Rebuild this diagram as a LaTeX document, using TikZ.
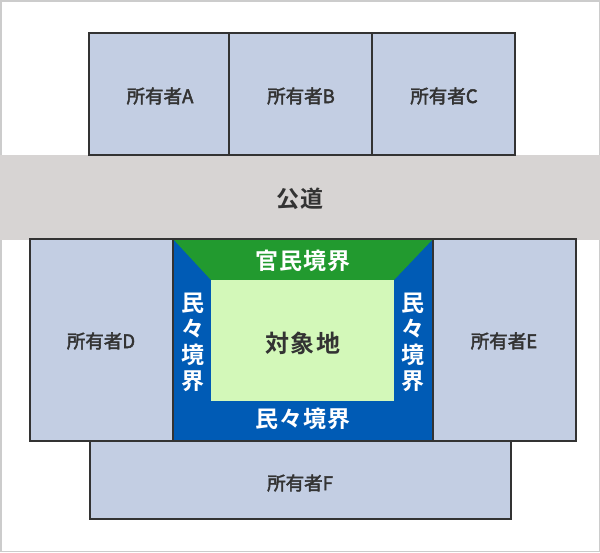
\documentclass[tikz,border=0pt]{standalone}
\usepackage{fontspec}
\newfontfamily\cjk[FakeBold=2.5]{Noto Sans CJK JP}
\newfontfamily\cjkb{Noto Sans CJK JP Bold}
\newfontfamily\cjkbs[LetterSpace=5]{Noto Sans CJK JP Bold}
\definecolor{boxfill}{HTML}{C3CEE3}
\definecolor{edge}{HTML}{333333}
\definecolor{road}{HTML}{D7D4D3}
\definecolor{blueb}{HTML}{005BB5}
\definecolor{greenb}{HTML}{229A2F}
\definecolor{site}{HTML}{D3F8B9}
\definecolor{frame}{HTML}{CCCCCC}
\tikzset{
  owner/.style={draw=edge, line width=2.4pt, fill=boxfill},
  ownerlabel/.style={text=edge, font=\cjk\fontsize{18.5}{20}\selectfont, inner sep=0pt},
  whitelabel/.style={text=white, font=\cjkbs\fontsize{23}{26}\selectfont, inner sep=0pt},
  whitevert/.style={text=white, font=\cjkb\fontsize{23}{26}\selectfont, inner sep=0pt, align=center},
}
\begin{document}
\begin{tikzpicture}[x=1pt,y=-1pt]
\useasboundingbox (0,0) rectangle (600,552);
% frame
\draw[frame, line width=1.5pt] (0.75,0.75) rectangle (599.25,551.25);
% road
\fill[road] (0,155) rectangle (600,240);
\node[text=edge, font=\cjkbs\fontsize{23}{24}\selectfont, inner sep=0pt] (road) at (300,199) {公道};
% top owners
\draw[owner] (89,33) rectangle (229,155);
\draw[owner] (229,33) rectangle (372,155);
\draw[owner] (372,33) rectangle (515,155);
\node[ownerlabel] (A) at (160,96) {所有者A};
\node[ownerlabel] (B) at (301,96) {所有者B};
\node[ownerlabel] (C) at (444,96) {所有者C};
% bottom owner F
\draw[owner] (90,441) rectangle (511,519);
\node[ownerlabel] (F) at (300,483) {所有者F};
% side owners
\draw[owner] (30,239) rectangle (173,441);
\draw[owner] (433,239) rectangle (576,441);
\node[ownerlabel] (D) at (101,341) {所有者D};
\node[ownerlabel] (E) at (504,341) {所有者E};
% center
\fill[blueb] (173,239) rectangle (433,441);
\fill[greenb] (173,239) -- (433,239) -- (394,280) -- (211,280) -- cycle;
\fill[site] (211,280) rectangle (394,401);
\draw[edge, line width=2.4pt] (173,239) rectangle (433,441);
\node[whitelabel] (top) at (303,261) {官民境界};
\node[whitelabel] (bottom) at (303,419) {民々境界};
\node[whitevert] (left) at (193,342) {民\\々\\境\\界};
\node[whitevert] (right) at (413,342) {民\\々\\境\\界};
\node[text=edge, font=\cjkbs\fontsize{24}{26}\selectfont, inner sep=0pt] (site) at (303,343) {対象地};
\end{tikzpicture}
\end{document}
